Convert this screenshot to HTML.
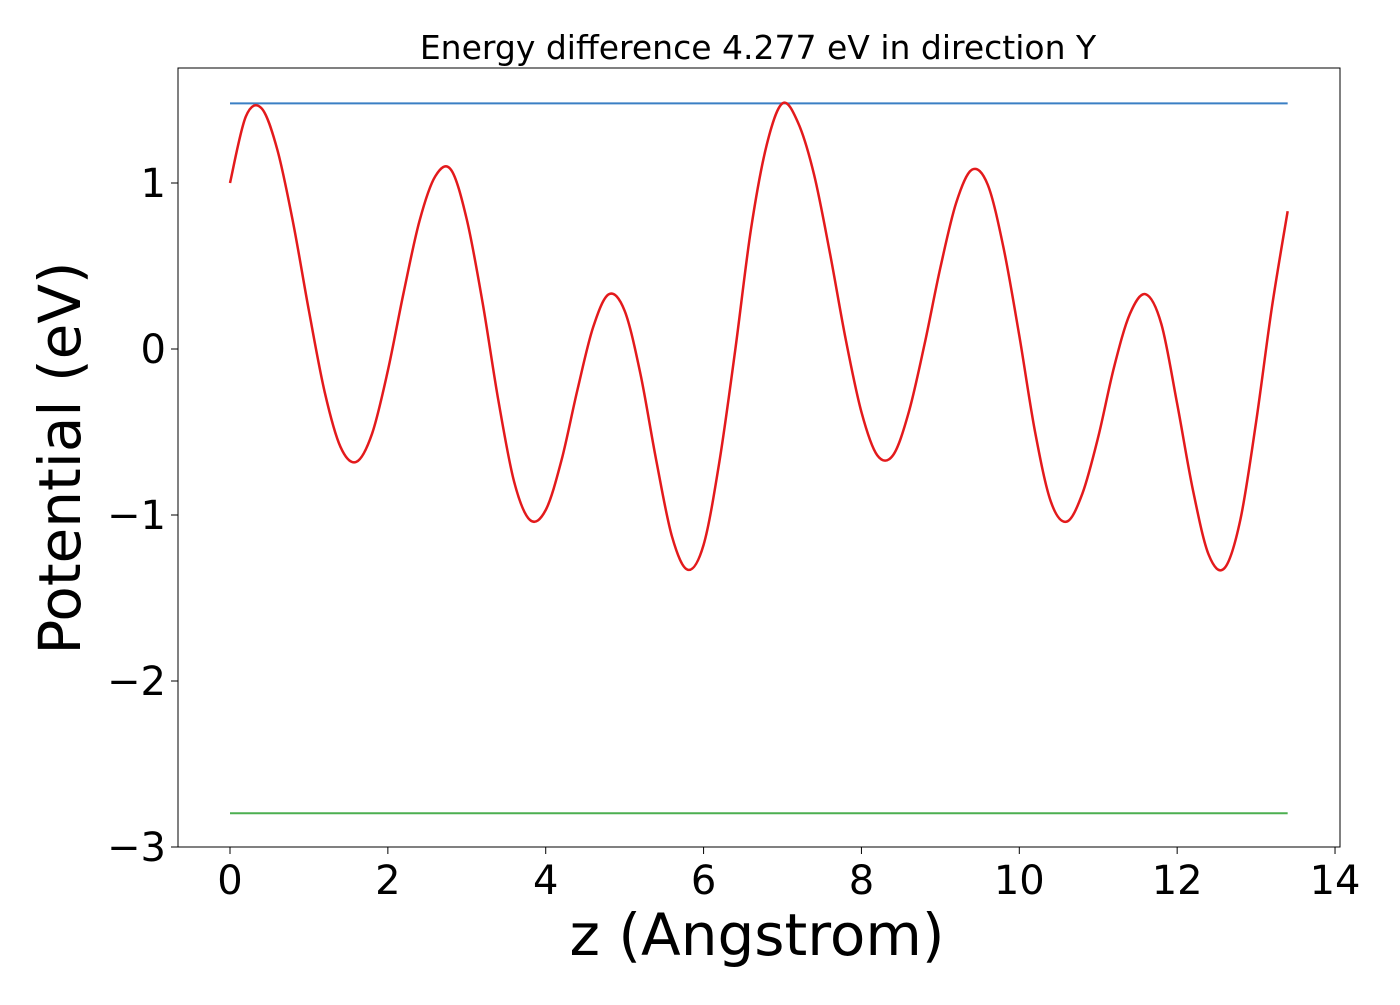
<!DOCTYPE html>
<html><head><meta charset="utf-8"><style>
body{margin:0;background:#fff;}
svg text{font-family:"DejaVu Sans","Liberation Sans",sans-serif;fill:#000;}
</style></head><body>
<svg id="chart" width="1400" height="1000" xmlns="http://www.w3.org/2000/svg">
<rect width="1400" height="1000" fill="#fff"/>
<g id="grid"></g>
<g id="plot"></g>
<rect x="178" y="68" width="1162" height="779" fill="none" stroke="#000" stroke-width="1"/>
<g id="ticks"></g>
<text x="758" y="59" font-size="33" text-anchor="middle">Energy difference 4.277 eV in direction Y</text>
<text x="757" y="955" font-size="58" text-anchor="middle">z (Angstrom)</text>
<text transform="translate(80,458) rotate(-90)" font-size="58" text-anchor="middle">Potential (eV)</text>
</svg>
<script>
const potentialValues = [1.00,1.40,1.45,1.20,0.76,0.23,-0.26,-0.59,-0.68,-0.51,-0.13,0.34,0.77,1.04,1.08,0.78,0.28,-0.31,-0.80,-1.03,-0.97,-0.67,-0.25,0.13,0.33,0.23,-0.15,-0.67,-1.13,-1.33,-1.18,-0.68,-0.01,0.72,1.23,1.48,
1.36,1.05,0.58,0.06,-0.38,-0.64,-0.64,-0.38,0.03,0.49,0.88,1.08,0.99,0.61,0.08,-0.50,-0.92,-1.04,-0.87,-0.53,-0.11,0.21,0.33,0.15,-0.33,-0.85,-1.24,-1.32,-1.03,-0.44,0.25,0.83];
const zStart = 0, zStep = 0.2;
const upperLevel = 1.48;
const lowerLevel = -2.797;
const levelRange = [0, 13.4];
const xTicks = [0,2,4,6,8,10,12,14];
const yTicks = [1,0,-1,-2,-3];
const NS="http://www.w3.org/2000/svg";
function xs(v){return 230 + v*78.93;}
function ys(v){return 349 - v*166;}
function mk(tag,attrs,parent){const e=document.createElementNS(NS,tag);for(const k in attrs)e.setAttribute(k,attrs[k]);parent.appendChild(e);return e;}
const plot=document.getElementById('plot'), ticks=document.getElementById('ticks');
let l=mk('line',{x1:xs(levelRange[0]),x2:xs(levelRange[1]),y1:ys(upperLevel),y2:ys(upperLevel),stroke:'#3a7fc4','stroke-width':2},plot);


l=mk('line',{x1:xs(levelRange[0]),x2:xs(levelRange[1]),y1:ys(lowerLevel),y2:ys(lowerLevel),stroke:'#4caf50','stroke-width':2},plot);


const pts=potentialValues.map((v,i)=>[xs(zStart+i*zStep),ys(v)]);
let d='M'+pts[0][0]+','+pts[0][1];
for(let i=0;i<pts.length-1;i++){
 const p0=pts[Math.max(0,i-1)],p1=pts[i],p2=pts[i+1],p3=pts[Math.min(pts.length-1,i+2)];
 const c1=[p1[0]+(p2[0]-p0[0])/6,p1[1]+(p2[1]-p0[1])/6];
 const c2=[p2[0]-(p3[0]-p1[0])/6,p2[1]-(p3[1]-p1[1])/6];
 d+=' C'+c1+' '+c2+' '+p2;
}
const path=mk('path',{d:d,fill:'none',stroke:'#e31a1c','stroke-width':2.5},plot);


xTicks.forEach(t=>{
 const tk=mk('line',{x1:xs(t),x2:xs(t),y1:847,y2:854,stroke:'#000','stroke-width':1},ticks);
 
 
 const tx=mk('text',{x:xs(t),y:894,'font-size':40,'text-anchor':'middle'},ticks);
 tx.textContent=String(t);
 
 
});
yTicks.forEach(t=>{
 const tk=mk('line',{x1:171,x2:178,y1:ys(t),y2:ys(t),stroke:'#000','stroke-width':1},ticks);
 
 
 const tx=mk('text',{x:166,y:ys(t)+14,'font-size':40,'text-anchor':'end'},ticks);
 tx.textContent=(t<0?'\u2212':'')+Math.abs(t);
 
 
});
</script>
</body></html>
